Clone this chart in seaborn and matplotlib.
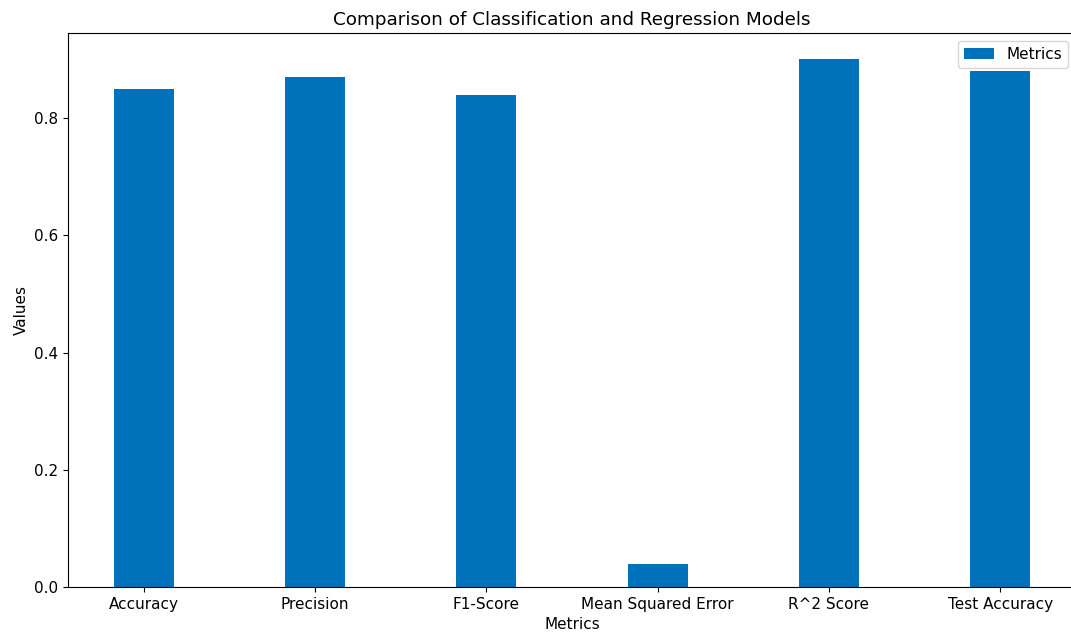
import pandas as pd
import matplotlib
matplotlib.use("Agg")
import matplotlib.pyplot as plt
import seaborn as sns

# ----------------------------------------
# Data
# ----------------------------------------

metric_names = ["Accuracy", "Precision", "F1-Score", "Mean Squared Error",
                "R^2 Score", "Test Accuracy"]
metric_values = [0.85, 0.87, 0.84, 0.04, 0.90, 0.88]

df = pd.DataFrame({"Metric": metric_names, "Value": metric_values})

# ----------------------------------------
# Plot
# ----------------------------------------

plt.rcParams["font.size"] = 11

fig, ax = plt.subplots(figsize=(10.71, 6.35), dpi=100)
sns.barplot(data=df, x="Metric", y="Value", color="#0072BB", saturation=1,
            width=0.35, label="Metrics", ax=ax)

# go back to plain matplotlib margins on the category axis
ax.autoscale(enable=True, axis="x")

ax.set_title("Comparison of Classification and Regression Models")
ax.set_xlabel("Metrics")
ax.set_ylabel("Values")
ax.legend(loc="upper right")

# the original image is cropped a little on the right, so the axes run past the edge
fig.subplots_adjust(left=0.0635, right=1.0047, bottom=0.0756, top=0.948)
fig.savefig("out.png", dpi=100)
